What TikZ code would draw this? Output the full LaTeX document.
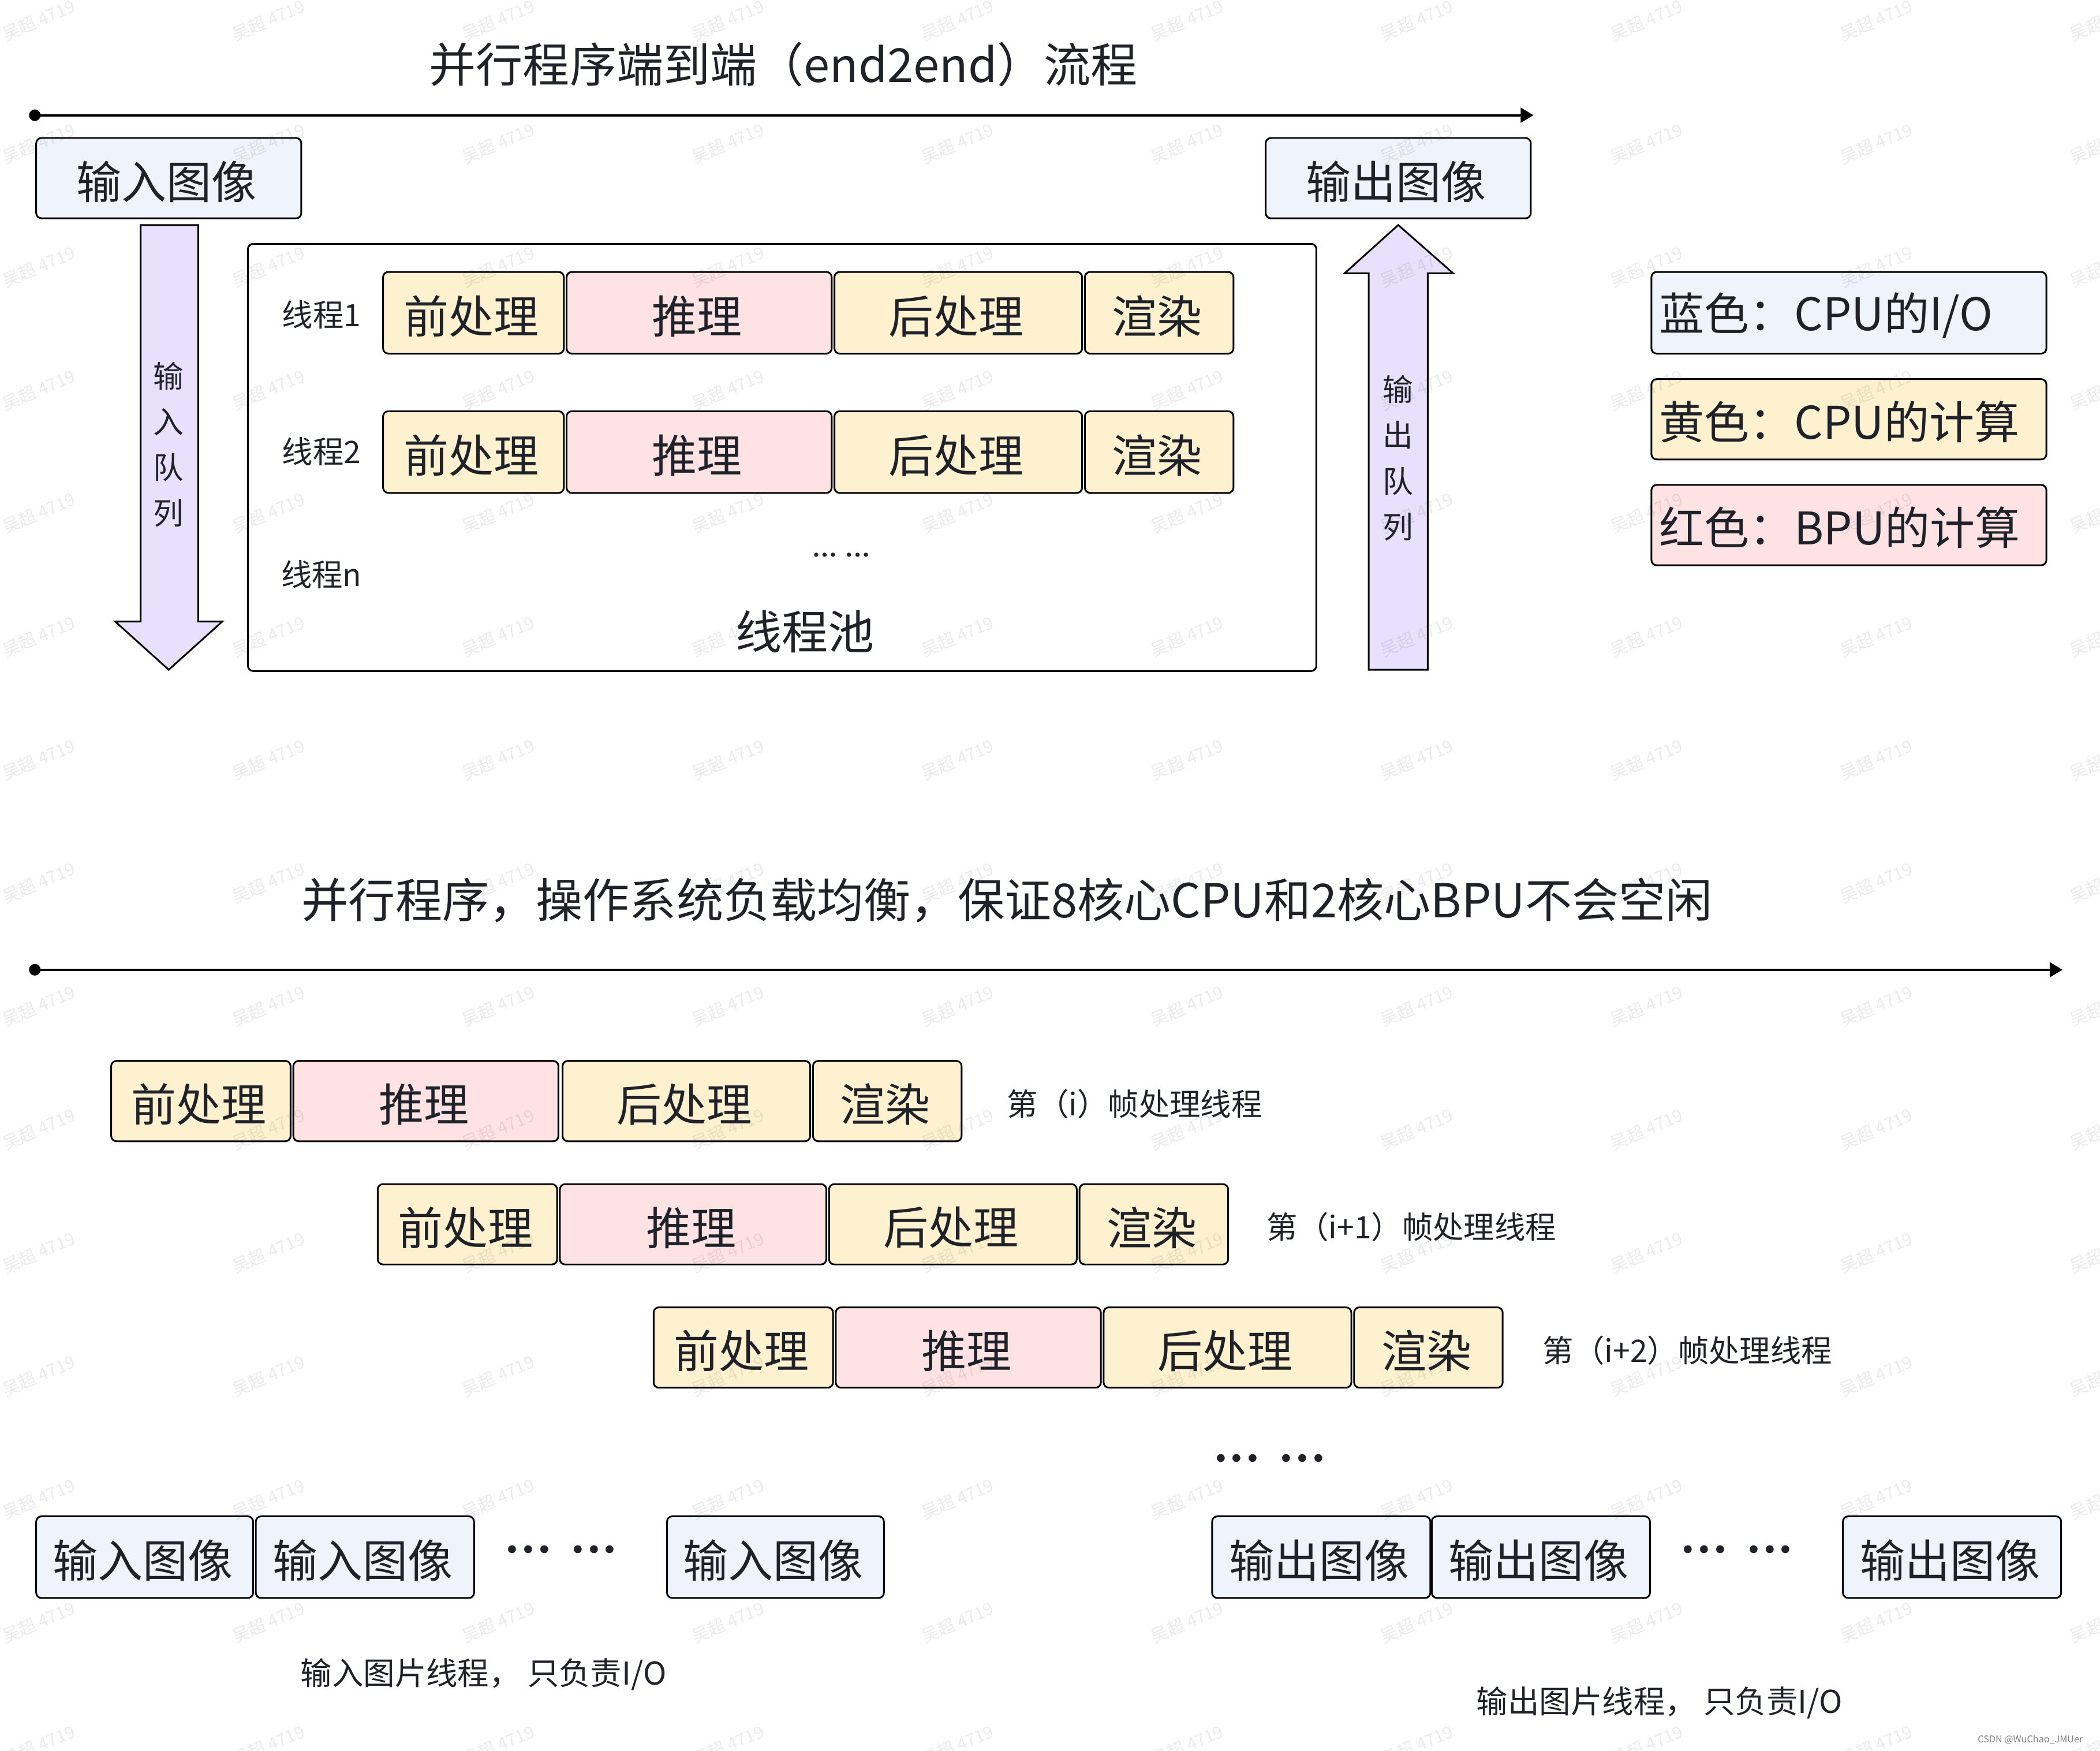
\documentclass[tikz,border=0pt]{standalone}
\usepackage{fontspec}
\setmainfont{Noto Sans CJK SC}
\newfontfamily\dotfont{DejaVu Sans}
\usetikzlibrary{arrows.meta}
\definecolor{txt}{HTML}{1F2329}
\definecolor{iofill}{HTML}{EFF3FC}
\definecolor{cpufill}{HTML}{FDF1CF}
\definecolor{bpufill}{HTML}{FEE2E4}
\definecolor{qfill}{HTML}{E8E0FD}
\newcommand\mybox[7]{%
  \node[#2, minimum width={(#5-#3)*0.66016pt}, minimum height={(#6-#4)*0.66016pt}] (#1) at ({(#3+#5)/2},{(#4+#6)/2}) {};
  \node[big] (#1-t) at ({(#3+#5)/2-1.5},{(#4+#6)/2+2.5}) {#7};}
\begin{document}
\begin{tikzpicture}[x=0.023202cm, y=-0.023202cm,
  every node/.style={inner sep=0pt, outer sep=0pt, text=txt},
  blk/.style={draw=black, line width=0.85pt, rounded corners=2.6pt},
  io/.style={blk, fill=iofill},
  cpu/.style={blk, fill=cpufill},
  bpu/.style={blk, fill=bpufill},
  big/.style={font=\fontsize{22.2}{27}\selectfont},
  small/.style={font=\fontsize{15.2}{18}\selectfont},
  ttl/.style={font=\fontsize{23.1}{28}\selectfont},
  bigdots/.style={font=\dotfont\fontsize{13.4}{16}\selectfont},
  smalldots/.style={font=\dotfont\fontsize{7}{8}\selectfont},
  timeline/.style={line width=1.15pt, -{Triangle[length=6.3pt,width=7.2pt]}},
  queue/.style={draw=black, line width=0.85pt, fill=qfill, line join=miter},
  wm/.style={font=\fontsize{8.5}{10}\selectfont, text=black, text opacity=0.08, rotate=23},
]
\fill[white] (0,0) rectangle (1568,1307);
\useasboundingbox (0,0) rectangle (1568,1307);

% ---------- top section ----------
\node[ttl] (t1) at (585,48) {并行程序端到端（end2end）流程};
\node[circle, fill=black, minimum size=5.7pt] (d1) at (26,86) {};
\coordinate (e1) at (1145,86);
\draw[timeline] (d1.center) -- (e1);

\mybox{inimg}{io}{27}{103}{225}{163}{输入图像}
\mybox{outimg}{io}{945}{103}{1143}{163}{输出图像}

% input queue (down arrow)
\draw[queue] (105,168) -- (148,168) -- (148,464) -- (166,464) -- (126,500) -- (86,464) -- (105,464) -- cycle;
\node[align=center, font=\fontsize{15}{22.5}\selectfont] (inq) at (126,332) {输\\入\\队\\列};
% output queue (up arrow)
\draw[queue] (1022,500) -- (1066,500) -- (1066,204) -- (1085,204) -- (1044,168) -- (1004,204) -- (1022,204) -- cycle;
\node[align=center, font=\fontsize{15}{22.5}\selectfont] (outq) at (1044,342) {输\\出\\队\\列};

% thread pool
\node[draw=black, line width=0.85pt, rounded corners=2.6pt, minimum width={(983-185)*0.66016pt}, minimum height={(501-182)*0.66016pt}] (pool) at ({(185+983)/2},{(182+501)/2}) {};
\node[font=\fontsize{22.8}{27}\selectfont] (poolt) at (601,471.5) {线程池};

\node[small] (th1) at (240,235) {线程1};
\node[small] (th2) at (240,337) {线程2};
\node[small] (thn) at (240,429) {线程n};
\node[smalldots] (pdots) at (628,415.5) {•••\hspace{3.8pt}•••};

\mybox{a1}{cpu}{286}{203}{421}{264}{前处理}
\mybox{a2}{bpu}{423}{203}{621}{264}{推理}
\mybox{a3}{cpu}{623}{203}{808}{264}{后处理}
\mybox{a4}{cpu}{810}{203}{921}{264}{渲染}

\mybox{b1}{cpu}{286}{307}{421}{368}{前处理}
\mybox{b2}{bpu}{423}{307}{621}{368}{推理}
\mybox{b3}{cpu}{623}{307}{808}{368}{后处理}
\mybox{b4}{cpu}{810}{307}{921}{368}{渲染}

% legend
\node[io, minimum width={295*0.66016pt}, minimum height={61*0.66016pt}] (leg1) at (1380.5,233.5) {};
\node[cpu, minimum width={295*0.66016pt}, minimum height={60*0.66016pt}] (leg2) at (1380.5,313) {};
\node[bpu, minimum width={295*0.66016pt}, minimum height={60*0.66016pt}] (leg3) at (1380.5,392) {};
\node[big, anchor=west] (leg1t) at (1239,235.5) {蓝色：CPU的I/O};
\node[big, anchor=west] (leg2t) at (1239,315) {黄色：CPU的计算};
\node[big, anchor=west] (leg3t) at (1239,394) {红色：BPU的计算};

% ---------- bottom section ----------
\node[ttl] (t2) at (752,672) {并行程序，操作系统负载均衡，保证8核心CPU和2核心BPU不会空闲};
\node[circle, fill=black, minimum size=5.7pt] (d2) at (26,724) {};
\coordinate (e2) at (1540,724);
\draw[timeline] (d2.center) -- (e2);

\mybox{r1a}{cpu}{83}{792}{217}{852}{前处理}
\mybox{r1b}{bpu}{219}{792}{417}{852}{推理}
\mybox{r1c}{cpu}{420}{792}{605}{852}{后处理}
\mybox{r1d}{cpu}{607}{792}{718}{852}{渲染}
\node[small, anchor=west] (r1l) at (752,824) {第（i）帧处理线程};

\mybox{r2a}{cpu}{282}{884}{416}{944}{前处理}
\mybox{r2b}{bpu}{418}{884}{617}{944}{推理}
\mybox{r2c}{cpu}{619}{884}{804}{944}{后处理}
\mybox{r2d}{cpu}{806}{884}{917}{944}{渲染}
\node[small, anchor=west] (r2l) at (946,916) {第（i+1）帧处理线程};

\mybox{r3a}{cpu}{488}{976}{622}{1036}{前处理}
\mybox{r3b}{bpu}{624}{976}{822}{1036}{推理}
\mybox{r3c}{cpu}{824}{976}{1009}{1036}{后处理}
\mybox{r3d}{cpu}{1011}{976}{1122}{1036}{渲染}
\node[small, anchor=west] (r3l) at (1152,1008) {第（i+2）帧处理线程};

\node[bigdots] (rdots) at (948,1091) {•••\hspace{8.6pt}•••};

\mybox{in1}{io}{27}{1132}{189}{1193}{输入图像}
\mybox{in2}{io}{191}{1132}{354}{1193}{输入图像}
\node[bigdots] (indots) at (419,1159) {•••\hspace{8.6pt}•••};
\mybox{in3}{io}{498}{1132}{660}{1193}{输入图像}

\mybox{out1}{io}{905}{1132}{1068}{1193}{输出图像}
\mybox{out2}{io}{1069}{1132}{1232}{1193}{输出图像}
\node[bigdots] (outdots) at (1297,1159) {•••\hspace{8.6pt}•••};
\mybox{out3}{io}{1376}{1132}{1539}{1193}{输出图像}

\node[font=\fontsize{15.5}{18}\selectfont] (inlab) at (361,1250) {输入图片线程， 只负责I/O};
\node[font=\fontsize{15.5}{18}\selectfont] (outlab) at (1239,1271) {输出图片线程， 只负责I/O};

\node[font=\fontsize{4.6}{5}\selectfont, text=gray] (csdn) at (1516,1299) {CSDN @WuChao\_JMUer};

% watermark
\foreach \i in {0,...,9} {
  \foreach \j in {0,...,14} {
    \node[wm] (wm-\i-\j) at ({28.9+171.5*\i},{15+92*\j}) {吴超 4719};
  }
}
\end{tikzpicture}
\end{document}
